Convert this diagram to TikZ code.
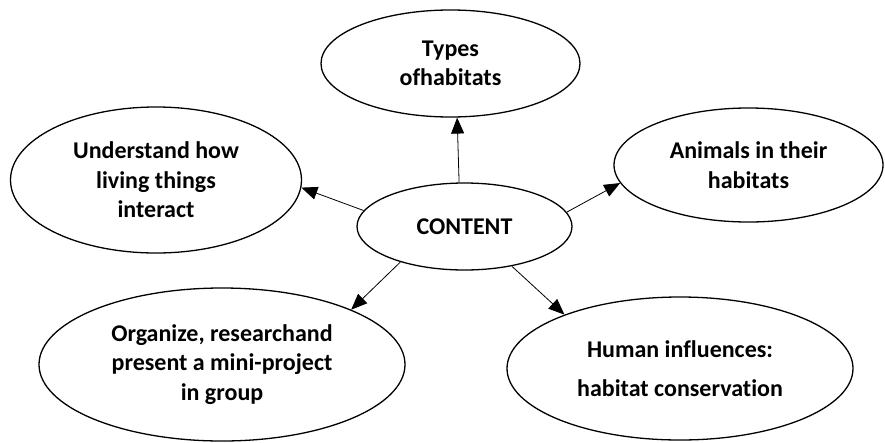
\documentclass[tikz,border=0pt]{standalone}
\usepackage{fontspec}
\setmainfont[Ligatures = NoCommon]{Carlito}
\usepackage{tikz}
\usetikzlibrary{arrows.meta}
\usetikzlibrary{shapes.geometric}
\tikzset{topic/.style = {draw, ellipse, line width = 1.3pt, inner sep = 0, align = center,
                         font = \bfseries\fontsize{24}{29.5}\selectfont}}
\tikzset{link/.style = {-{Triangle[length = 16pt, width = 13pt]}, line width = 0.8pt}}

\begin{document}
\begin{tikzpicture}[x = 1pt, y = -1pt]
        \useasboundingbox (0, 0) rectangle (885, 442);
        \node [topic, minimum width = 215pt, minimum height = 87pt] (content) at (464.5, 226.5) {CONTENT};
        \node [topic, minimum width = 259pt, minimum height = 107pt] (types) at (450.5, 63.5) {Types\\ofhabitats};
        \node [topic, minimum width = 291pt, minimum height = 146pt] (understand) at (156, 180) {Understand how\\living things\\interact};
        \node [topic, minimum width = 269pt, minimum height = 114pt] (animals) at (748.5, 165) {Animals in their\\habitats};
        \node [topic, minimum width = 366pt, minimum height = 153pt] (organize) at (222, 364.5) {Organize, researchand\\present a mini-project\\in group};
        \node [topic, minimum width = 346pt, minimum height = 143pt] (human) at (680, 368.5) {Human influences:\\[10pt]habitat conservation};
        \draw [link] (content.97) -- (types.-83);
        \draw [link] (content.171) -- (understand.-3);
        \draw [link] (content.8) -- (animals.188);
        \draw [link] (content.209) -- (organize.23);
        \draw [link] (content.-40) -- (human.155);
      \end{tikzpicture}
\end{document}
